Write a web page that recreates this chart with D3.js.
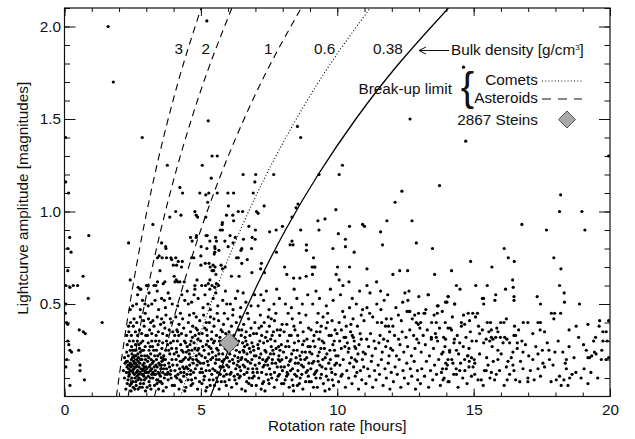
<!DOCTYPE html>
<html>
<head>
<meta charset="utf-8">
<script src="https://cdn.jsdelivr.net/npm/d3@7"></script>
<style>
body { margin: 0; background: #fff; }
text { font-family: 'Liberation Sans', Arial, Helvetica, sans-serif; fill: #111; }
</style>
</head>
<body>
<script>
const w = 635
const h = 439
const plotLeft = 64.5
const plotRight = 610
const plotTop = 8
const plotBottom = 396.5

// break-up limit curves, amplitude grid and matching periods per density
const ampGrid = [0, 0.3, 0.6, 0.9, 1.2, 1.5, 1.8, 2.1]
const periodsRho3 = [1.905, 2.187, 2.511, 2.883, 3.311, 3.801, 4.364, 5.011]
const periodsRho2 = [2.333, 2.679, 3.076, 3.532, 4.055, 4.656, 5.346, 6.138]
const periodsRho1 = [3.300, 3.789, 4.350, 4.995, 5.735, 6.584, 7.560, 8.680]
const periodsRho06 = [4.260, 4.891, 5.616, 6.448, 7.403, 8.500, 9.759, 11.205]
const periodsRho038 = [5.353, 6.146, 7.057, 8.102, 9.302, 10.681, 12.263, 14.080]
const densityLabels = ['3', '2', '1', '0.6', '0.38']

const steins = [6.04, 0.29]

const xTicks = [0, 5, 10, 15, 20]
const yTicks = [0.5, 1.0, 1.5, 2.0]

// [period h, amplitude mag], large amplitudes
const sparse = [
[0.04,1.40],[0.04,1.16],[0.15,1.10],[0.19,0.86],[0.89,0.87],[0.12,0.80],[0.24,0.78],[0.12,0.68],[0.68,0.65],[0.04,0.60],[0.20,0.59],[0.32,0.60],[0.48,0.60],
[1.60,2.00],[1.79,1.70],[2.85,1.40],[5.22,2.03],[5.27,1.49],[8.54,1.46],[8.66,1.40],[12.67,1.50],[14.63,1.78],[14.71,1.38],[13.75,1.14],[19.95,1.30],[18.19,1.09],[18.15,1.00],[18.97,1.00],
[12.74,0.95],[16.77,0.93],[17.67,0.90],[19.08,0.90],[12.90,0.83],[13.49,0.80],[16.12,0.80],[17.94,0.75],[16.27,0.75],[16.49,0.73],[14.89,0.73],[14.19,0.68],[13.57,0.66],[15.67,0.70],[18.20,0.69],[16.43,0.63],[14.37,0.60],[15.08,0.60],[15.50,0.60],[16.45,0.59],[16.17,0.58],[18.15,0.60],
[5.41,1.30],[5.60,1.30],[5.05,1.25],[10.19,1.25],[6.55,1.20],[7.01,1.20],[7.67,1.20],[10.07,1.20],[9.33,1.20],[5.38,1.18],[6.98,1.16],[4.96,1.10],[5.18,1.09],[5.60,1.10],[5.99,1.10],[6.20,1.10],[6.92,1.10],[12.37,1.11],[12.12,1.05],[5.25,1.05],[6.01,1.03],[7.32,1.03],[8.56,1.04],[8.49,1.02],[9.95,1.01],
[6.37,1.00],[6.53,1.00],[7.04,1.00],[7.10,0.99],[5.94,0.98],[6.17,0.98],[6.20,0.95],[5.79,0.94],[5.78,0.93],[5.79,0.90],[5.71,0.90],[8.34,0.97],[9.29,0.95],[9.55,0.96],[10.93,0.93],[11.00,0.92],[11.82,0.95],[6.76,0.92],[7.99,0.92],[7.00,0.90],[7.52,0.89],[7.76,0.90],[8.66,0.90],[9.33,0.90],[10.45,0.92],[10.04,0.88],[11.59,0.89],
[5.19,0.87],[5.54,0.86],[6.07,0.87],[6.26,0.86],[6.56,0.85],[6.88,0.86],[6.99,0.85],[5.88,0.84],[6.18,0.83],[6.00,0.81],[6.50,0.80],[6.47,0.79],[6.86,0.80],[5.01,0.81],[5.22,0.80],[5.52,0.80],[5.66,0.79],[5.49,0.77],
[8.34,0.84],[8.27,0.82],[8.38,0.82],[7.77,0.78],[8.87,0.82],[8.87,0.79],[10.30,0.85],[10.30,0.81],[10.62,0.78],[9.84,0.80],[11.66,0.82],[9.13,0.75],[9.08,0.70],[9.18,0.70],
[5.16,0.72],[5.34,0.70],[5.52,0.70],[5.47,0.68],[5.74,0.71],[5.79,0.69],[5.89,0.70],[6.12,0.65],[6.40,0.65],[6.70,0.74],[6.50,0.72],[6.31,0.75],[6.37,0.75],[7.22,0.72],[7.19,0.69],[7.33,0.67],[6.87,0.67],
[8.07,0.70],[8.15,0.66],[8.40,0.64],[8.63,0.64],[8.86,0.65],[9.09,0.66],[9.16,0.70],[10.01,0.70],[10.45,0.70],[11.09,0.69],[12.04,0.66],[12.29,0.68],[12.58,0.68],[10.07,0.63],[9.96,0.66],
[2.35,0.83],[2.41,0.63],[2.70,0.59],[3.05,0.60],[3.24,0.93],[3.77,1.25],[4.23,1.13],[4.33,1.10],[3.86,0.97],[4.08,1.00],[4.27,0.98],[3.56,0.83],[3.72,0.80],[3.47,0.76],[3.58,0.75],[3.74,0.75],[3.90,0.75],[4.08,0.75],[3.99,0.71],[4.11,0.71],[4.29,0.70],[4.02,0.65],[3.50,0.68],[3.62,0.61],[3.28,0.60],[3.35,0.60],[4.05,0.62],[4.23,0.62],
[4.78,1.00],[5.29,1.10],[4.83,0.98],[4.62,0.86],[4.83,0.86],[4.68,0.84],[4.84,0.87],[5.00,0.76],[4.66,0.75],[4.74,0.75],[5.30,0.72],[5.45,0.71],[5.41,0.68],[5.55,0.66],[5.00,0.71],[4.86,0.63],[5.03,0.60],[5.17,0.60],[5.27,0.61],[5.41,0.60],[5.65,0.60],[4.78,0.60],
[4.88,0.97],[5.18,0.97],[3.71,0.81],[5.23,0.87],[5.33,0.84],[5.51,0.81],[5.51,0.78],[5.57,0.84],[3.93,0.74],[4.17,0.73],[4.32,0.73],[3.41,0.75],[2.77,0.58],[3.01,0.60],[3.07,0.60],[3.41,0.62],[3.68,0.62],[4.10,0.63],[4.15,0.62],[4.39,0.62],[4.78,0.58],[5.33,0.63],[5.33,0.58],[5.51,0.59],[5.57,0.61],
[10.21,0.60],[10.43,0.62],[11.09,0.60],[11.44,0.62],[11.59,0.57],[12.63,0.57],[12.99,0.54],[13.34,0.55],
[18.32,0.56],[18.33,0.51],[17.33,0.54],[17.45,0.50],[18.88,0.50],[16.48,0.54],[16.48,0.52],[15.81,0.55],[15.78,0.52],[15.32,0.53],[15.37,0.53],[15.37,0.50],[13.33,0.55],[14.06,0.54],[14.30,0.50],[13.97,0.51],[13.67,0.49]
]

// periods 0 - 5 h
const band0to5 = [
[0.08,.40],[0.12,.39],[1.38,.40],[0.54,.36],[0.69,.35],[0.76,.34],[0.12,.30],[0.16,.28],[0.20,.25],[0.26,.24],[0.52,.25],[0.08,.20],[0.05,.16],[0.57,.17],[0.57,.14],[0.73,.09],[0.20,.06],[0.87,.53],[0.05,.50],[0.03,.45],
[2.25,.04],[2.4,.06],[2.52,.05],[2.61,.08],[2.7,.04],[2.78,.07],[2.85,.05],[2.93,.09],[2.33,.09],[2.47,.1],[2.56,.12],[2.66,.11],[2.74,.1],[2.88,.12],[2.97,.03],[2.2,.1],[2.38,.12],[2.5,.08],[2.63,.06],[2.81,.09],[2.91,.11],[2.44,.03],[2.59,.1],[2.72,.12],
[2.16,.14],[2.27,.13],[2.35,.15],[2.42,.14],[2.48,.17],[2.55,.15],[2.6,.18],[2.68,.14],[2.73,.16],[2.8,.15],[2.87,.17],[2.95,.14],[2.22,.18],[2.31,.19],[2.39,.17],[2.45,.2],[2.53,.19],[2.64,.2],[2.7,.19],[2.77,.13],[2.84,.2],[2.92,.18],[2.99,.16],[2.29,.16],[2.36,.13],[2.5,.14],[2.58,.16],[2.66,.17],[2.76,.18],[2.89,.15],[2.97,.2],[2.43,.16],
[2.2,.21],[2.28,.24],[2.34,.22],[2.41,.25],[2.47,.23],[2.55,.22],[2.62,.25],[2.69,.23],[2.75,.26],[2.82,.22],[2.9,.25],[2.96,.27],[2.3,.28],[2.38,.3],[2.46,.27],[2.52,.3],[2.6,.28],[2.67,.3],[2.73,.28],[2.8,.29],[2.87,.3],[2.94,.22],[2.57,.25],[2.85,.25],
[2.28,.33],[2.36,.35],[2.45,.33],[2.52,.38],[2.6,.35],[2.68,.33],[2.75,.36],[2.83,.34],[2.92,.38],[2.98,.33],[2.42,.4],[2.55,.42],[2.65,.4],[2.78,.43],[2.9,.41],[2.96,.45],[2.35,.38],
[2.5,.49],[2.64,.5],[2.78,.47],[2.86,.52],[2.95,.5],[2.68,.55],[2.41,.47],[2.8,.58],
[2.3,.07],[2.36,.11],[2.45,.07],[2.51,.13],[2.58,.04],[2.64,.13],[2.69,.09],[2.76,.05],[2.83,.12],[2.9,.07],[2.96,.13],[2.27,.19],[2.33,.17],[2.41,.18],[2.49,.21],[2.56,.18],[2.63,.16],[2.71,.21],[2.79,.2],[2.86,.14],[2.93,.16],[2.99,.1],[2.62,.22],[2.5,.25],[2.78,.24],
[3.03,.05],[3.1,.08],[3.17,.04],[3.24,.1],[3.3,.06],[3.38,.09],[3.45,.04],[3.52,.11],[3.58,.07],[3.66,.1],[3.73,.05],[3.8,.09],[3.88,.12],[3.95,.06],[3.07,.11],[3.2,.12],[3.34,.12],[3.49,.08],[3.62,.03],[3.77,.12],[3.91,.1],[3.13,.06],
[3.02,.15],[3.08,.13],[3.14,.17],[3.2,.15],[3.26,.19],[3.33,.14],[3.4,.16],[3.46,.18],[3.53,.15],[3.6,.13],[3.67,.17],[3.74,.15],[3.82,.18],[3.9,.14],[3.97,.17],[3.05,.19],[3.18,.2],[3.29,.16],[3.37,.2],[3.44,.13],[3.57,.19],[3.7,.2],[3.85,.16],[3.94,.2],[3.11,.16],[3.24,.13],[3.5,.17],[3.63,.15],[3.79,.13],
[3.01,.13],[3.09,.21],[3.15,.1],[3.22,.18],[3.28,.12],[3.35,.17],[3.42,.22],[3.48,.12],[3.55,.17],[3.62,.2],[3.69,.12],[3.15,.14],[3.27,.25],[3.39,.07],[3.53,.08],
[3.03,.22],[3.1,.25],[3.16,.23],[3.23,.27],[3.31,.22],[3.37,.25],[3.43,.28],[3.5,.23],[3.57,.26],[3.64,.22],[3.71,.25],[3.78,.28],[3.86,.23],[3.93,.26],[3.99,.3],[3.07,.29],[3.2,.3],[3.34,.3],[3.47,.3],[3.6,.29],[3.74,.3],[3.89,.29],[3.14,.27],[3.55,.21],[3.82,.25],
[3.04,.33],[3.12,.36],[3.2,.34],[3.28,.38],[3.36,.33],[3.44,.35],[3.52,.39],[3.6,.34],[3.68,.37],[3.76,.33],[3.84,.36],[3.92,.4],[3.08,.42],[3.24,.41],[3.4,.43],[3.56,.42],[3.72,.44],[3.88,.42],[3.16,.4],[3.64,.4],[3.97,.35],
[3.07,.49],[3.32,.52],[3.56,.53],[3.66,.52],[3.86,.53],[3.2,.5],[3.45,.47],[3.7,.48],[3.95,.5],[3.1,.56],[3.4,.57],[3.8,.56],
[4.03,.06],[4.12,.1],[4.2,.04],[4.28,.08],[4.37,.11],[4.45,.05],[4.53,.09],[4.62,.12],[4.7,.07],[4.8,.1],[4.88,.04],[4.95,.08],[4.16,.12],[4.41,.03],[4.66,.09],
[4.05,.14],[4.13,.17],[4.22,.15],[4.3,.19],[4.38,.13],[4.47,.16],[4.55,.2],[4.63,.14],[4.72,.18],[4.8,.15],[4.9,.19],[4.97,.13],[4.09,.2],[4.34,.16],[4.59,.17],[4.84,.2],[4.26,.13],
[4.02,.23],[4.1,.26],[4.18,.22],[4.26,.28],[4.35,.24],[4.43,.21],[4.5,.27],[4.58,.23],[4.67,.25],[4.75,.29],[4.83,.22],[4.92,.26],[4.99,.3],[4.14,.3],[4.4,.3],[4.64,.3],[4.3,.25],[4.88,.25],[4.55,.25],
[4.04,.33],[4.12,.36],[4.2,.39],[4.29,.34],[4.37,.37],[4.46,.33],[4.54,.4],[4.62,.35],[4.7,.38],[4.79,.33],[4.87,.36],[4.96,.41],[4.08,.43],[4.33,.42],[4.58,.44],[4.83,.43],[4.25,.45],[4.74,.45],
[4.15,.49],[4.41,.52],[4.54,.5],[4.66,.51],[4.9,.53],[4.3,.55],[4.5,.57],[4.75,.55],
[4.07,.11],[4.24,.19],[4.49,.12],[4.61,.21],[4.73,.13],[4.86,.17],[4.94,.23],[4.19,.33],[4.44,.29],[4.69,.32],[4.93,.34],[4.11,.24],[4.36,.2],[4.52,.15],[4.78,.26],[4.98,.18],[4.23,.09],[4.47,.24],[4.71,.2],[4.89,.31],[4.15,.35],[4.6,.28],[4.82,.37],[4.39,.15],[4.64,.06]
]

// periods 5 - 10 h
const band5to10 = [
[5.04,.07],[5.13,.11],[5.22,.05],[5.31,.09],[5.4,.12],[5.5,.06],[5.58,.1],[5.67,.04],[5.75,.08],[5.84,.11],[5.93,.06],[5.18,.03],[5.45,.09],[5.71,.12],
[5.02,.15],[5.1,.18],[5.19,.14],[5.27,.17],[5.36,.2],[5.44,.15],[5.53,.18],[5.61,.13],[5.7,.16],[5.78,.19],[5.87,.14],[5.95,.17],[5.06,.13],[5.32,.14],[5.57,.2],[5.82,.16],
[5.03,.22],[5.12,.25],[5.2,.28],[5.29,.23],[5.37,.26],[5.46,.29],[5.55,.22],[5.63,.25],[5.72,.28],[5.8,.23],[5.89,.26],[5.97,.21],[5.16,.21],[5.42,.24],[5.67,.2],[5.92,.29],[5.25,.3],[5.5,.3],[5.77,.3],
[5.05,.34],[5.14,.37],[5.23,.33],[5.31,.4],[5.4,.35],[5.48,.38],[5.57,.33],[5.65,.41],[5.74,.36],[5.83,.39],[5.91,.34],[5.99,.42],[5.1,.44],[5.35,.43],[5.6,.45],[5.86,.45],[5.2,.4],[5.7,.32],
[5.08,.48],[5.26,.5],[5.45,.53],[5.62,.49],[5.8,.52],[5.95,.5],[5.15,.55],[5.55,.56],[5.9,.57],[5.35,.47],
[5.07,.27],[5.24,.19],[5.39,.31],[5.52,.14],[5.66,.23],[5.79,.35],[5.94,.12],[5.11,.09],[5.34,.06],[5.6,.08],[5.85,.2],[5.48,.42],[5.73,.16],[5.21,.36],[5.96,.25],[5.43,.21],[5.68,.3],[5.3,.27],[5.88,.08],[5.58,.26],
[6.04,.09],[6.13,.05],[6.22,.11],[6.31,.07],[6.4,.1],[6.5,.04],[6.59,.12],[6.68,.08],[6.77,.1],[6.86,.06],[6.95,.11],[6.35,.12],[6.63,.03],
[6.02,.16],[6.11,.13],[6.2,.18],[6.28,.15],[6.37,.19],[6.46,.14],[6.55,.17],[6.64,.2],[6.73,.15],[6.82,.18],[6.91,.13],[6.99,.17],[6.16,.2],[6.42,.16],[6.69,.13],[6.87,.2],
[6.06,.23],[6.15,.26],[6.24,.22],[6.33,.28],[6.42,.24],[6.5,.21],[6.6,.27],[6.69,.23],[6.78,.26],[6.87,.29],[6.96,.22],[6.1,.3],[6.38,.3],[6.65,.3],[6.92,.27],[6.3,.25],[6.55,.25],[6.82,.24],
[6.03,.35],[6.12,.38],[6.21,.33],[6.3,.4],[6.39,.36],[6.48,.33],[6.57,.39],[6.66,.35],[6.75,.42],[6.84,.37],[6.93,.34],[6.17,.44],[6.44,.43],[6.71,.45],[6.98,.4],[6.26,.31],[6.62,.32],
[6.08,.5],[6.27,.53],[6.46,.48],[6.65,.51],[6.84,.49],[6.97,.55],[6.35,.57],[6.55,.56],[6.18,.47],
[6.07,.12],[6.25,.09],[6.47,.2],[6.72,.19],[6.89,.1],[6.14,.32],[6.36,.21],[6.53,.29],[6.8,.33],[6.94,.25],[6.2,.27],[6.44,.11],[6.61,.16],[6.76,.07],[6.33,.17],[6.5,.36],[6.7,.28],[6.9,.15],[6.05,.19],[6.58,.24],
[7.03,.06],[7.12,.1],[7.21,.04],[7.3,.08],[7.4,.12],[7.5,.07],[7.6,.1],[7.69,.05],[7.78,.09],[7.88,.12],[7.96,.07],[7.35,.03],
[7.05,.15],[7.14,.18],[7.23,.13],[7.33,.17],[7.42,.2],[7.52,.15],[7.61,.18],[7.7,.13],[7.8,.16],[7.9,.19],[7.99,.14],[7.27,.2],[7.56,.12],[7.84,.2],
[7.02,.22],[7.11,.26],[7.2,.23],[7.3,.29],[7.39,.24],[7.48,.21],[7.58,.27],[7.67,.23],[7.76,.26],[7.86,.22],[7.95,.28],[7.16,.3],[7.44,.3],[7.72,.3],[7.62,.2],[7.35,.25],[7.9,.25],
[7.04,.34],[7.13,.37],[7.23,.33],[7.32,.4],[7.42,.35],[7.51,.38],[7.61,.33],[7.7,.41],[7.8,.36],[7.89,.33],[7.98,.39],[7.18,.44],[7.47,.43],[7.75,.45],[7.56,.31],
[7.1,.49],[7.3,.52],[7.5,.47],[7.68,.5],[7.88,.53],[7.4,.57],[7.78,.58],[7.2,.55],
[7.07,.13],[7.26,.07],[7.45,.17],[7.64,.25],[7.83,.11],[7.97,.2],[7.15,.21],[7.37,.32],[7.55,.23],[7.74,.18],[7.92,.36],[7.09,.28],[7.28,.16],[7.47,.09],[7.66,.35],[7.85,.27],[7.22,.38],[7.58,.42],[7.94,.16],[7.38,.19],
[8.04,.07],[8.14,.11],[8.24,.05],[8.34,.09],[8.44,.12],[8.54,.06],[8.64,.1],[8.74,.04],[8.84,.08],[8.94,.11],[8.4,.03],
[8.06,.16],[8.16,.13],[8.26,.19],[8.36,.15],[8.46,.18],[8.56,.14],[8.66,.2],[8.76,.16],[8.86,.13],[8.96,.18],[8.3,.2],[8.7,.12],
[8.03,.24],[8.13,.21],[8.23,.27],[8.33,.23],[8.43,.29],[8.53,.25],[8.63,.22],[8.73,.28],[8.83,.24],[8.93,.27],[8.18,.3],[8.58,.3],[8.88,.21],[8.4,.25],
[8.05,.35],[8.15,.39],[8.25,.33],[8.35,.42],[8.45,.36],[8.55,.33],[8.65,.4],[8.75,.35],[8.85,.44],[8.95,.37],[8.2,.45],[8.6,.45],
[8.1,.5],[8.32,.48],[8.52,.53],[8.72,.5],[8.92,.55],[8.42,.58],
[8.09,.09],[8.29,.14],[8.49,.21],[8.69,.17],[8.89,.31],[8.11,.27],[8.31,.33],[8.51,.11],[8.71,.24],[8.91,.14],[8.21,.17],[8.41,.38],[8.61,.07],[8.81,.2],[8.99,.24],[8.19,.12],[8.38,.06],[8.57,.18],[8.78,.3],[8.97,.08],
[9.05,.08],[9.16,.12],[9.27,.05],[9.38,.1],[9.49,.07],[9.6,.11],[9.71,.04],[9.82,.09],[9.93,.12],[9.55,.03],
[9.03,.15],[9.14,.19],[9.25,.14],[9.36,.17],[9.47,.2],[9.58,.15],[9.69,.18],[9.8,.13],[9.91,.17],[9.2,.13],[9.75,.2],
[9.07,.23],[9.18,.27],[9.29,.22],[9.4,.26],[9.51,.29],[9.62,.23],[9.73,.25],[9.84,.28],[9.95,.22],[9.12,.3],[9.45,.3],[9.89,.3],[9.34,.24],
[9.04,.36],[9.15,.33],[9.26,.4],[9.37,.35],[9.48,.43],[9.59,.37],[9.7,.33],[9.81,.41],[9.92,.36],[9.3,.45],[9.65,.45],
[9.1,.5],[9.35,.53],[9.6,.49],[9.85,.52],[9.22,.57],[9.75,.58],
[9.09,.18],[9.22,.1],[9.33,.31],[9.44,.16],[9.56,.21],[9.67,.09],[9.78,.33],[9.9,.25],[9.01,.27],[9.13,.05],[9.24,.35],[9.42,.12],[9.53,.26],[9.64,.4],[9.77,.15],[9.97,.18],[9.3,.19],[9.41,.38],[9.86,.06],[9.99,.34]
]

// periods 10 - 15 h
const band10to15 = [
[10.55,.53],[10.88,.44],[10.15,.36],[10.25,.32],[10.31,.32],[10.49,.35],[10.55,.33],[10.59,.32],[10.64,.27],[10.15,.26],[10.4,.24],[10.68,.26],[10.76,.23],[10.95,.24],
[10.05,.08],[10.18,.12],[10.3,.05],[10.42,.1],[10.54,.07],[10.66,.11],[10.78,.04],[10.9,.09],[10.35,.14],[10.6,.16],[10.85,.14],[10.1,.17],[10.22,.2],[10.46,.18],[10.71,.19],[10.97,.16],[10.03,.22],[10.28,.27],[10.52,.21],[10.8,.28],[10.92,.2],[10.09,.3],[10.37,.29],[10.62,.3],[10.84,.34],[10.07,.4],[10.33,.38],[10.58,.42],[10.74,.38],[10.98,.41],[10.2,.46],[10.45,.48],[10.7,.5],[10.93,.47],[10.12,.55],[10.82,.57],[10.27,.43],[10.5,.39],[10.65,.2],[10.43,.26],[10.88,.31],[10.14,.11],[10.72,.13],
[11.09,.48],[11.19,.45],[11.47,.4],[11.63,.4],[11.8,.42],[11.98,.42],[11.77,.38],[11.88,.38],[11.92,.35],
[11.05,.07],[11.18,.11],[11.3,.05],[11.42,.09],[11.55,.12],[11.68,.06],[11.8,.1],[11.93,.04],[11.12,.15],[11.25,.19],[11.37,.14],[11.5,.17],[11.62,.2],[11.75,.15],[11.87,.18],[11.98,.13],[11.03,.23],[11.15,.27],[11.28,.22],[11.4,.26],[11.53,.29],[11.65,.24],[11.78,.27],[11.9,.22],[11.08,.31],[11.22,.34],[11.35,.3],[11.57,.33],[11.7,.31],[11.85,.3],[11.96,.26],[11.3,.43],[11.45,.5],[11.72,.52],[11.2,.56],[11.6,.47],[11.85,.55],
[12.24,.44],[12.4,.51],[12.59,.52],[12.64,.46],[12.56,.46],[12.98,.45],[12.9,.4],[12.97,.39],[12.04,.38],
[12.06,.08],[12.2,.12],[12.33,.05],[12.46,.1],[12.6,.07],[12.73,.11],[12.87,.04],[12.95,.09],[12.12,.16],[12.27,.2],[12.41,.14],[12.55,.18],[12.68,.15],[12.82,.19],[12.94,.14],[12.03,.25],[12.17,.22],[12.3,.28],[12.44,.24],[12.58,.27],[12.72,.22],[12.85,.26],[12.99,.29],[12.1,.33],[12.25,.31],[12.38,.35],[12.52,.32],[12.66,.36],[12.8,.33],[12.92,.31],[12.15,.48],[12.35,.41],[12.75,.42],[12.48,.56],[12.66,.46],[12.84,.44],
[13.06,.4],[13.03,.37],[13.18,.45],[13.7,.49],[13.46,.4],[13.63,.4],[13.96,.4],[13.21,.45],[13.67,.45],
[13.05,.07],[13.2,.11],[13.35,.05],[13.5,.09],[13.64,.12],[13.78,.06],[13.92,.1],[13.1,.15],[13.27,.19],[13.42,.14],[13.57,.17],[13.72,.2],[13.86,.15],[13.98,.18],[13.08,.24],[13.23,.28],[13.38,.22],[13.53,.26],[13.68,.3],[13.83,.23],[13.95,.27],[13.15,.33],[13.3,.36],[13.45,.31],[13.6,.34],[13.75,.37],[13.9,.32],[13.25,.47],[13.55,.44],[13.85,.46],
[13.88,.24],[13.82,.13],[13.88,.09],[13.63,.32],[13.45,.32],[13.97,.31],
[14.02,.51],[14.07,.54],[14.31,.5],[14.22,.43],[14.63,.44],[14.8,.45],[14.97,.45],[14.06,.37],[14.14,.37],[14.19,.36],[14.55,.4],[14.67,.39],[14.85,.41],
[14.1,.08],[14.27,.12],[14.43,.05],[14.6,.1],[14.76,.07],[14.92,.11],[14.04,.17],[14.2,.2],[14.36,.15],[14.52,.18],[14.68,.14],[14.84,.19],[14.98,.16],[14.12,.25],[14.28,.29],[14.45,.23],[14.62,.27],[14.78,.22],[14.94,.3],[14.4,.33],[14.55,.38],[14.72,.32],[14.88,.35],[14.5,.58],
[14.12,.24],[14.37,.25],[14.06,.2],[14.24,.18],[14.0,.15],[14.06,.08],[14.37,.12],[14.49,.14],[14.67,.2],[14.79,.22],[14.92,.21],[14.83,.16],[14.83,.26],[14.49,.29],[14.3,.31]
]

// periods 15 - 20 h
const band15to20 = [
[15.04,.18],[15.04,.12],[15.16,.09],[15.28,.09],[15.4,.14],[15.46,.14],[15.65,.13],[15.77,.09],[15.83,.12],[15.53,.17],[15.89,.2],[16.01,.23],[16.23,.09],[16.32,.12],[16.44,.17],[16.54,.09],[16.69,.08],[16.81,.15],[16.99,.1],[16.99,.08],[17.17,.2],[17.36,.15],[17.54,.18],[17.6,.16],[17.78,.2],[17.91,.17],[18.03,.09],[18.15,.11],[18.21,.06],[18.31,.09],[18.4,.2],[18.52,.1],[18.46,.06],[18.61,.12],[18.4,.15],[18.27,.24],[17.76,.25],[17.52,.25],[17.36,.23],[16.81,.24],[16.44,.24],[16.26,.19],[16.2,.16],[15.89,.25],[15.68,.27],[15.59,.3],[15.46,.31],[15.37,.29],[15.1,.3],
[15.02,.2],[15.22,.23],[15.35,.06],[15.48,.21],[15.6,.1],[15.72,.19],[15.95,.14],[16.08,.29],[16.12,.06],[16.38,.21],[16.48,.14],[16.6,.26],[16.72,.19],[16.9,.28],[17.02,.22],[17.08,.14],[17.22,.09],[17.28,.27],[17.45,.11],[17.7,.29],[17.84,.08],[17.98,.24],[18.1,.3],[18.36,.18],[18.5,.27],[18.68,.21],[18.75,.13],[18.85,.32],[19.05,.15],[19.3,.13],[19.55,.1],[19.7,.25],[19.9,.3],[19.4,.3],[19.6,.38],[15.18,.38],[15.85,.37],[16.65,.36],[17.6,.35],[18.5,.36],
[15.07,.43],[15.14,.45],[15.5,.4],[15.62,.4],[15.99,.4],[16.11,.4],[16.2,.42],[16.5,.38],[16.82,.4],[16.99,.4],[17.36,.4],[17.45,.4],[17.17,.34],[17.44,.36],[17.85,.45],[17.97,.45],[17.94,.42],[18.19,.45],
[15.22,.34],[15.32,.36],[15.56,.35],[15.65,.36],[15.65,.32],[15.71,.31],[15.81,.32],[15.89,.35],[15.98,.32],[16.14,.32],[16.22,.31],[16.48,.33],[16.54,.33],[16.77,.3],[16.32,.29],[16.6,.29],
[18.76,.38],[19.03,.28],[19.13,.25],[19.19,.21],[19.33,.22],[19.43,.24],[19.49,.23],[19.74,.3],[19.74,.35],[19.86,.35],[19.95,.41],[19.62,.41],[19.47,.32],[19.25,.21],[18.94,.1],[19.19,.07],[19.95,.21],[19.19,.39],[19.68,.2],[19.86,.2]
]

const allPoints = [...sparse, ...band0to5, ...band5to10, ...band10to15, ...band15to20]

const svg = d3.select('body')
	.append('svg')
	.attr('width', w)
	.attr('height', h)
	.style('background', '#fff')

const xScale = d3.scaleLinear()
	.domain([0, 20])
	.range([plotLeft, plotRight])

const yScale = d3.scaleLinear()
	.domain([0, 2.1])
	.range([plotBottom, plotTop])

svg.append('clipPath')
	.attr('id', 'plot')
	.append('rect')
	.attr('x', plotLeft)
	.attr('y', plotTop)
	.attr('width', plotRight - plotLeft)
	.attr('height', plotBottom - plotTop)

const plot = svg.append('g').attr('clip-path', 'url(#plot)')

plot.append('g')
	.selectAll('circle')
	.data(allPoints)
	.enter()
	.append('circle')
	.attr('cx', d => xScale(d[0]))
	.attr('cy', d => yScale(d[1]))
	.attr('r', 1.6)
	.attr('fill', '#000')

const lineFunction = d3.line()
	.x(d => xScale(d[0]))
	.y(d => yScale(d[1]))
	.curve(d3.curveNatural)

const curveSets = [
	{periods: periodsRho3, dash: '7,5'},
	{periods: periodsRho2, dash: '7,5'},
	{periods: periodsRho1, dash: '7,5'},
	{periods: periodsRho06, dash: '1,2.2'},
	{periods: periodsRho038, dash: null}
]

curveSets.forEach(c => {
	plot.append('path')
		.attr('d', lineFunction(ampGrid.map((a, i) => [c.periods[i], a])))
		.attr('fill', 'none')
		.attr('stroke', '#000')
		.attr('stroke-width', c.dash === null ? 1.3 : 1.1)
		.attr('stroke-dasharray', c.dash)
})

// Steins
const diamond = (cx, cy, r) => `M${cx},${cy - r}L${cx + r},${cy}L${cx},${cy + r}L${cx - r},${cy}Z`
plot.append('path')
	.attr('d', diamond(xScale(steins[0]), yScale(steins[1]), 10))
	.attr('fill', '#a9a9a9')
	.attr('stroke', '#333')
	.attr('stroke-width', 0.8)

// axes
const fontSize = '15.3px'
const styleAxis = g => {
	g.select('.domain').remove()
	g.selectAll('line').attr('stroke', '#111')
	g.selectAll('text').style('font-size', fontSize).attr('fill', '#111')
}

svg.append('g')
	.attr('transform', `translate(0,${plotBottom})`)
	.call(d3.axisBottom(xScale).tickValues(d3.range(0, 21)).tickSize(-4).tickFormat(''))
	.call(styleAxis)
svg.append('g')
	.attr('transform', `translate(0,${plotBottom})`)
	.call(d3.axisBottom(xScale).tickValues(xTicks).tickSize(-8).tickPadding(7.6).tickFormat(d3.format('d')))
	.call(styleAxis)
svg.append('g')
	.attr('transform', `translate(0,${plotTop})`)
	.call(d3.axisTop(xScale).tickValues(d3.range(0, 21)).tickSize(-4).tickFormat(''))
	.call(styleAxis)
svg.append('g')
	.attr('transform', `translate(0,${plotTop})`)
	.call(d3.axisTop(xScale).tickValues(xTicks).tickSize(-8).tickFormat(''))
	.call(styleAxis)

const yMinor = d3.range(1, 22).map(i => i / 10)
svg.append('g')
	.attr('transform', `translate(${plotLeft},0)`)
	.call(d3.axisLeft(yScale).tickValues(yMinor).tickSize(-5.5).tickFormat(''))
	.call(styleAxis)
svg.append('g')
	.attr('transform', `translate(${plotLeft},0)`)
	.call(d3.axisLeft(yScale).tickValues(yTicks).tickSize(-11).tickPadding(3.5).tickFormat(d3.format('.1f')))
	.call(styleAxis)
svg.append('g')
	.attr('transform', `translate(${plotRight},0)`)
	.call(d3.axisRight(yScale).tickValues(yMinor).tickSize(-5.5).tickFormat(''))
	.call(styleAxis)
svg.append('g')
	.attr('transform', `translate(${plotRight},0)`)
	.call(d3.axisRight(yScale).tickValues(yTicks).tickSize(-11).tickFormat(''))
	.call(styleAxis)

svg.append('rect')
	.attr('x', plotLeft)
	.attr('y', plotTop)
	.attr('width', plotRight - plotLeft)
	.attr('height', plotBottom - plotTop)
	.attr('fill', 'none')
	.attr('stroke', '#111')
	.attr('stroke-width', 1.2)

// axis titles
svg.append('text')
	.attr('x', (plotLeft + plotRight) / 2)
	.attr('y', 431)
	.attr('text-anchor', 'middle')
	.style('font-size', fontSize)
	.text('Rotation rate [hours]')

svg.append('text')
	.attr('transform', `translate(28,${(plotTop + plotBottom) / 2 - 4}) rotate(-90)`)
	.attr('text-anchor', 'middle')
	.style('font-size', fontSize)
	.text('Lightcurve amplitude [magnitudes]')

// density labels
const labelPeriods = [4.19, 5.18, 7.47, 9.54, 11.86]
svg.selectAll('.dlabel')
	.data(densityLabels)
	.enter()
	.append('text')
	.attr('class', 'dlabel')
	.attr('x', (d, i) => xScale(labelPeriods[i]))
	.attr('y', yScale(1.85))
	.attr('text-anchor', 'middle')
	.style('font-size', fontSize)
	.text(d => d)

// arrow + bulk density
svg.append('path')
	.attr('d', 'M419,50.5H449M426,47L419,50.5L426,54')
	.attr('fill', 'none')
	.attr('stroke', '#111')
	.attr('stroke-width', 1)

const bulk = svg.append('text')
	.attr('x', 451)
	.attr('y', 54.5)
	.style('font-size', fontSize)
bulk.append('tspan').text('Bulk density [g/cm')
bulk.append('tspan').attr('dy', -5).style('font-size', '8px').text('3')
bulk.append('tspan').attr('dy', 5).text(']')

// legend
svg.append('text')
	.attr('x', 452)
	.attr('y', 93.5)
	.attr('text-anchor', 'end')
	.style('font-size', fontSize)
	.text('Break-up limit')

svg.append('text')
	.attr('x', 467.5)
	.attr('y', 100.5)
	.attr('text-anchor', 'middle')
	.style('font-size', '40px')
	.text('{')

const legendRows = [
	{label: 'Comets', y: 84.5, dash: '1,2.2'},
	{label: 'Asteroids', y: 102.5, dash: '9,7'}
]
legendRows.forEach(r => {
	svg.append('text')
		.attr('x', 538)
		.attr('y', r.y)
		.attr('text-anchor', 'end')
		.style('font-size', fontSize)
		.text(r.label)
	svg.append('line')
		.attr('x1', 542)
		.attr('x2', 582)
		.attr('y1', r.y - 3.5)
		.attr('y2', r.y - 3.5)
		.attr('stroke', '#111')
		.attr('stroke-width', 1.1)
		.attr('stroke-dasharray', r.dash)
})

svg.append('text')
	.attr('x', 538)
	.attr('y', 125)
	.attr('text-anchor', 'end')
	.style('font-size', fontSize)
	.text('2867 Steins')

svg.append('path')
	.attr('d', diamond(567, 119.5, 8.5))
	.attr('fill', '#a9a9a9')
	.attr('stroke', '#333')
	.attr('stroke-width', 0.8)
</script>
</body>
</html>
